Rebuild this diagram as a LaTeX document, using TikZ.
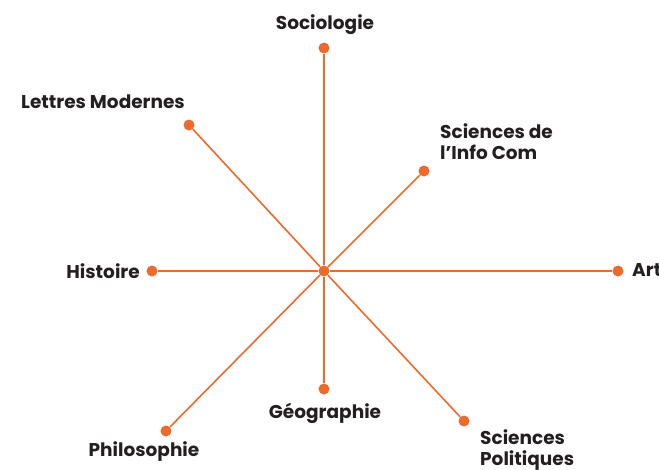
\documentclass[tikz,border=0pt]{standalone}
\usepackage{fontspec}
\setmainfont{Poppins}
\usepackage{tikz}
\usepackage{xcolor}
\definecolor{orangeline}{HTML}{EC6A2B}
\definecolor{labelgray}{HTML}{231F20}
\tikzset{
  dot/.style={circle, fill=orangeline, inner sep=0pt, minimum size=11pt},
  branch/.style={orangeline, line width=1.6pt},
  lbl/.style={text=labelgray, font=\fontsize{18.5}{21}\selectfont\bfseries, inner sep=0pt}
}

\begin{document}
\begin{tikzpicture}[x=1pt, y=-1pt]
            \useasboundingbox (0,0) rectangle (659,469);

            \node[dot] (c) at (324,271) {};
            \node[dot] (soc) at (324,48) {};
            \node[dot] (lett) at (189,125) {};
            \node[dot] (info) at (424,171) {};
            \node[dot] (hist) at (152,271) {};
            \node[dot] (art) at (618,271) {};
            \node[dot] (philo) at (166,431) {};
            \node[dot] (geo) at (324,389) {};
            \node[dot] (pol) at (464,421) {};

            \draw[branch] (c) -- (soc);
            \draw[branch] (c) -- (lett);
            \draw[branch] (c) -- (info);
            \draw[branch] (c) -- (hist);
            \draw[branch] (c) -- (art);
            \draw[branch] (c) -- (philo);
            \draw[branch] (c) -- (geo);
            \draw[branch] (c) -- (pol);

            \node[lbl] (socl) at (325,25) {Sociologie};
            \node[lbl] (lettl) at (103,102) {Lettres Modernes};
            \node[lbl, anchor=west, align=left] (infol) at (440,142) {Sciences de\\l’Info Com};
            \node[lbl, anchor=east] (histl) at (140,271) {Histoire};
            \node[lbl, anchor=west] (artl) at (632,270) {Art};
            \node[lbl] (geol) at (325,413) {Géographie};
            \node[lbl] (philol) at (144,452) {Philosophie};
            \node[lbl, anchor=west, align=left] (poll) at (480,450) {Sciences\\Politiques};
        \end{tikzpicture}
\end{document}
